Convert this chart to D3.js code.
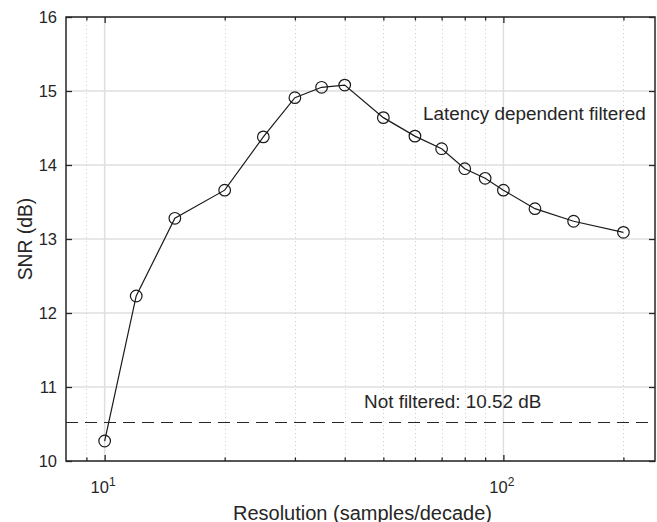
<!DOCTYPE html>
<html><head><meta charset="utf-8">
<script src="https://cdn.jsdelivr.net/npm/d3@7"></script>
<style>
html,body{margin:0;padding:0;background:#fff;}
svg text{font-family:"Liberation Sans",Arial,Helvetica,sans-serif;fill:#262626;}
</style></head><body>
<svg id="c" width="657" height="522"></svg>
<script>
const resolution = [10,12,15,20,25,30,35,40,50,60,70,80,90,100,120,150,200];
const snr = [10.27,12.23,13.28,13.66,14.38,14.91,15.05,15.08,14.64,14.39,14.22,13.95,13.82,13.66,13.41,13.24,13.09];
const notFiltered = 10.52;
const yTicks = [10,11,12,13,14,15,16];
const xMajor = [10,100];
const xMinor = [9,20,30,40,50,60,70,80,90,200];
const xDomain = [8,240];
const yDomain = [10,16];

(function(){
const svg = d3.select("#c");
const L=66,R=655,T=17,B=461;
const x = d3.scaleLog().domain(xDomain).range([L,R]);
const y = d3.scaleLinear().domain(yDomain).range([B,T]);
const axisCol="#262626";

// grid
const g = svg.append("g");
g.selectAll(".hg").data(yTicks).join("line")
 .attr("x1",L).attr("x2",R).attr("y1",d=>y(d)).attr("y2",d=>y(d))
 .attr("stroke","#dfdfdf").attr("stroke-width",1.5);
g.selectAll(".vmin").data(xMinor).join("line")
 .attr("x1",d=>Math.round(x(d))+0.5).attr("x2",d=>Math.round(x(d))+0.5).attr("y1",T).attr("y2",B)
 .attr("stroke","#cfcfcf").attr("stroke-width",1).attr("stroke-dasharray","1,3");
g.selectAll(".vmaj").data(xMajor).join("line")
 .attr("x1",d=>x(d)).attr("x2",d=>x(d)).attr("y1",T).attr("y2",B)
 .attr("stroke","#dfdfdf").attr("stroke-width",1.5);

// dashed reference line
svg.append("line").attr("x1",L).attr("x2",R).attr("y1",y(notFiltered)).attr("y2",y(notFiltered))
 .attr("stroke","#262626").attr("stroke-width",1.2).attr("stroke-dasharray","12,7");

// data line
const pts = resolution.map((r,i)=>[r,snr[i]]);
svg.append("path").datum(pts)
 .attr("d",d3.line().x(d=>x(d[0])).y(d=>y(d[1])))
 .attr("fill","none").attr("stroke","#1a1a1a").attr("stroke-width",1.2);
svg.selectAll(".pt").data(pts).join("circle")
 .attr("cx",d=>x(d[0])).attr("cy",d=>y(d[1])).attr("r",5.8)
 .attr("fill","none").attr("stroke","#1a1a1a").attr("stroke-width",1.2);

// axes with inward ticks
const axB = svg.append("g").attr("transform",`translate(0,${B})`)
 .call(d3.axisBottom(x).tickValues(xMajor).tickSize(-6).tickFormat(""));
const axBm = svg.append("g").attr("transform",`translate(0,${B})`)
 .call(d3.axisBottom(x).tickValues(xMinor).tickSize(-3.5).tickFormat(""));
const axT = svg.append("g").attr("transform",`translate(0,${T})`)
 .call(d3.axisTop(x).tickValues(xMajor).tickSize(-6).tickFormat(""));
const axTm = svg.append("g").attr("transform",`translate(0,${T})`)
 .call(d3.axisTop(x).tickValues(xMinor).tickSize(-3.5).tickFormat(""));
const axL = svg.append("g").attr("transform",`translate(${L},0)`)
 .call(d3.axisLeft(y).tickValues(yTicks).tickSize(-6).tickPadding(9).tickFormat(d3.format("d")));
const axR = svg.append("g").attr("transform",`translate(${R},0)`)
 .call(d3.axisRight(y).tickValues(yTicks).tickSize(-6).tickFormat(""));
[axB,axBm,axT,axTm,axL,axR].forEach(a=>{
  a.select(".domain").remove();
  a.selectAll(".tick line").attr("stroke",axisCol).attr("stroke-width",1.3);
});
axL.selectAll(".tick text").attr("font-size",16.5).attr("fill",axisCol)
 .attr("font-family","'Liberation Sans',Arial,sans-serif");

// frame
svg.append("rect").attr("x",L).attr("y",T).attr("width",R-L).attr("height",B-T)
 .attr("fill","none").attr("stroke",axisCol).attr("stroke-width",1.5);

// x tick labels 10^n
xMajor.forEach(v=>{
  const t = svg.append("text").attr("x",x(v)-1.5).attr("y",B+31.5).attr("text-anchor","middle")
    .attr("font-size",16.5);
  t.append("tspan").text("10");
  t.append("tspan").attr("dy",-7).attr("font-size",12).text(Math.round(Math.log10(v)));
});

// axis labels
svg.append("text").attr("x",362.5).attr("y",519.5).attr("text-anchor","middle")
 .attr("font-size",20).text("Resolution (samples/decade)");
svg.append("text").attr("transform",`translate(32,239) rotate(-90)`)
 .attr("text-anchor","middle").attr("font-size",19.3).text("SNR (dB)");

// annotations
svg.append("text").attr("x",423).attr("y",120).attr("font-size",18.9).text("Latency dependent filtered");
svg.append("text").attr("x",364).attr("y",408).attr("font-size",18.9).text("Not filtered: 10.52 dB");
})();
</script></body></html>
